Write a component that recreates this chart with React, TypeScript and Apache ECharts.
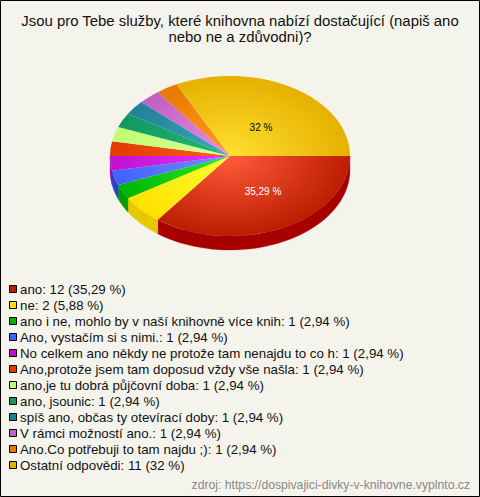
import React, { useEffect, useRef } from "react";
import * as echarts from "echarts";

const titleText = "Jsou pro Tebe služby, které knihovna nabízí dostačující (napiš ano\nnebo ne a zdůvodni)?";
const sourceText = "zdroj: https://dospivajici-divky-v-knihovne.vyplnto.cz";
const categories = [
  "ano", "ne", "ano i ne, mohlo by v naší knihovně více knih", "Ano, vystačím si s nimi.",
  "No celkem ano někdy ne protože tam nenajdu to co h", "Ano,protože jsem tam doposud vždy vše našla",
  "ano,je tu dobrá půjčovní doba", "ano, jsounic", "spíš ano, občas ty otevírací doby",
  "V rámci možností ano.", "Ano.Co potřebuji to tam najdu ;)", "Ostatní odpovědi",
];
const counts = [12, 2, 1, 1, 1, 1, 1, 1, 1, 1, 1, 11];
const percents = ["35,29", "5,88", "2,94", "2,94", "2,94", "2,94", "2,94", "2,94", "2,94", "2,94", "2,94", "32"];
const lightColors = ["#ff5c3c", "#ffff30", "#2cec2c", "#6e94ff", "#ea30ff", "#ff5c20", "#dcff9c", "#24b878", "#40aabc", "#e48ce8", "#ff9c20", "#ffe030"];
const edgeColors = ["#bc1c00", "#ffe000", "#00b400", "#4060ff", "#c010d0", "#e03c00", "#c0ff70", "#109860", "#208098", "#c060c0", "#e87800", "#e6b000"];
const sideColors = ["#a80000", "#e6c800", "#00a000", "#2840d0", "#a000b0", "#c03000", "#a0d860", "#008050", "#106880", "#a04ca0", "#c86000", "#c89800"];

const CX = 230, CY = 156, RX = 120, RY = 80, DEPTH = 14;
const total = counts.reduce((a, b) => a + b, 0);
const starts: number[] = [];
counts.reduce((acc, v, i) => { starts[i] = acc; return acc + v; }, 0);

function sidePoints(a0: number, a1: number) {
  const hi = Math.min(a1, Math.PI);
  if (a0 >= hi) return null;
  const top: number[][] = [];
  const steps = 40;
  for (let k = 0; k <= steps; k++) {
    const t = a0 + ((hi - a0) * k) / steps;
    top.push([CX + RX * Math.cos(t), CY + RY * Math.sin(t)]);
  }
  const bottom = top.map(([x, y]) => [x, y + DEPTH]).reverse();
  return [...top, ...bottom];
}

export default function App() {
  const ref = useRef<HTMLDivElement>(null);
  useEffect(() => {
    const chart = echarts.init(ref.current!, undefined, { renderer: "svg" });
    const names = categories.map((c, i) => `${c}: ${counts[i]} (${percents[i]} %)`);
    chart.setOption({
      animation: false,
      backgroundColor: "#f5f4ec",
      textStyle: { fontFamily: "Liberation Sans" },
      title: {
        text: titleText, left: 235, top: 8, textAlign: "center",
        textStyle: { fontFamily: "Liberation Sans", fontSize: 14.9, fontWeight: "normal", color: "#111", lineHeight: 16 },
      },
      legend: {
        orient: "vertical", left: 9, top: 282, padding: 0, itemWidth: 8, itemHeight: 8, itemGap: 2,
        selectedMode: false, icon: "rect",
        itemStyle: { color: "transparent", borderWidth: 0, opacity: 0 },
        textStyle: { fontFamily: "Liberation Sans", fontSize: 13.3, color: "#111", padding: [0, 0, 0, -2], lineHeight: 14 },
        data: names,
      },
      graphic: [
        { type: "rect", shape: { x: 0.5, y: 0.5, width: 479, height: 496 }, style: { fill: "none", stroke: "#000", lineWidth: 1 }, z: 100 },
        { type: "text", x: 470, y: 485, style: { text: sourceText, fill: "#888", font: "12.2px Liberation Sans", align: "right", verticalAlign: "middle" }, z: 10 },
        { type: "text", x: 263, y: 191, style: { text: `${percents[0]} %`, fill: "#fff", font: "10px Liberation Sans", align: "center", verticalAlign: "middle" }, z: 10 },
        { type: "text", x: 261, y: 127, style: { text: `${percents[11]} %`, fill: "#000", font: "10px Liberation Sans", align: "center", verticalAlign: "middle" }, z: 10 },
        ...edgeColors.map((c, i) => ({
          type: "rect",
          shape: { x: 9.5, y: 285.5 + 16 * i, width: 7, height: 7 },
          style: { fill: c, stroke: "#000", lineWidth: 1 },
          z: 10,
        })),
      ],
      series: counts.map((v, i) => ({
        type: "custom",
        name: names[i],
        coordinateSystem: "none",
        itemStyle: { color: edgeColors[i] },
        data: [[starts[i], v]],
        renderItem: (_: any, api: any) => {
          const a0 = (api.value(0) / total) * Math.PI * 2;
          const a1 = ((api.value(0) + api.value(1)) / total) * Math.PI * 2;
          const side = sidePoints(a0, a1);
          const children: any[] = [];
          if (side) children.push({ type: "polygon", shape: { points: side }, style: { fill: sideColors[i], stroke: sideColors[i], lineWidth: 0.3 } });
          children.push({
            type: "group", x: CX, y: CY, scaleY: RY / RX,
            children: [{
              type: "sector",
              shape: { cx: 0, cy: 0, r: RX, r0: 0, startAngle: a0, endAngle: a1, clockwise: true },
              style: {
                fill: new echarts.graphic.RadialGradient(0, 0, RX, [
                  { offset: 0, color: lightColors[i] },
                  { offset: 1, color: edgeColors[i] },
                ], true),
              },
            }],
          });
          return { type: "group", children };
        },
      })),
    });
    return () => chart.dispose();
  }, []);
  return <div ref={ref} style={{ position: "fixed", left: 0, top: 0, width: 480, height: 497 }} />;
}
